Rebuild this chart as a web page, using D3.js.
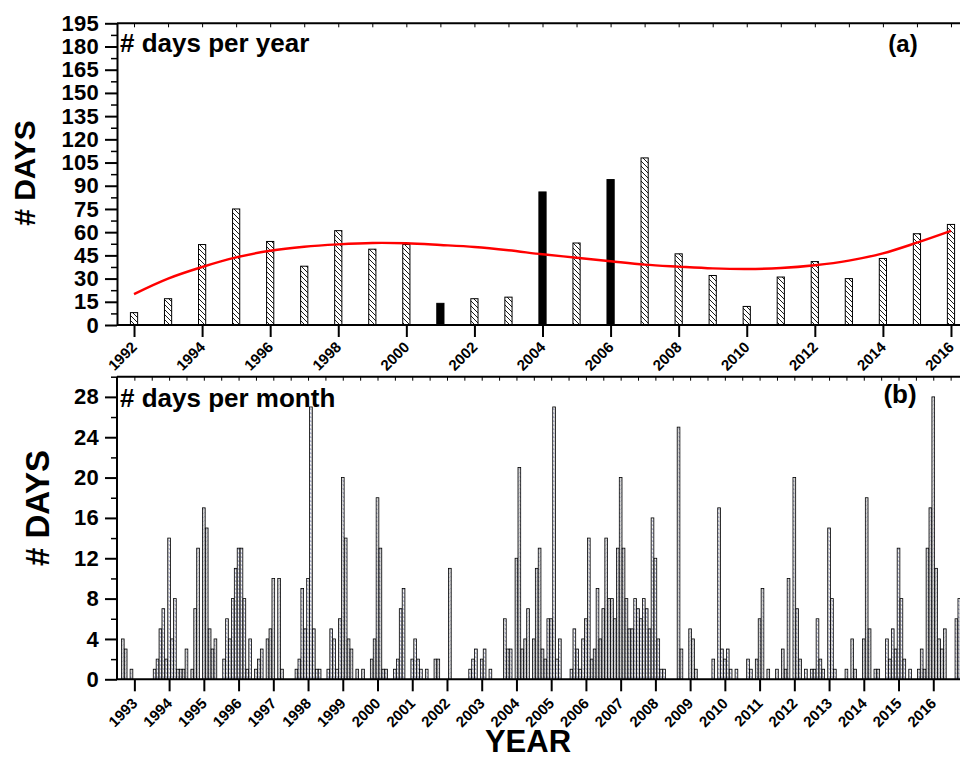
<!DOCTYPE html>
<html><head><meta charset="utf-8">
<script src="https://cdn.jsdelivr.net/npm/d3@7"></script>
<style>
body{margin:0;background:#fff}
svg{display:block}
text{font-family:"Liberation Sans",Arial,Helvetica,sans-serif;font-weight:bold;fill:#000}
</style>
</head><body>
<svg id="chart" width="960" height="758"></svg>
<script>
// ---------- DATA ----------
const years = [1992,1993,1994,1995,1996,1997,1998,1999,2000,2001,2002,2003,2004,
               2005,2006,2007,2008,2009,2010,2011,2012,2013,2014,2015,2016];
const yearlyDays = [8,17,52,75,54,38,61,49,52,14,17,18,86,53,94,108,46,32,12,31,41,30,43,59,65];
const solidYears = [2001,2004,2006];
const fitDays = [20,30,37.5,43.7,48,50.6,52.1,53,52.8,51.7,50.4,48.3,45.7,43.5,41.2,39,37.7,36.6,36.2,36.8,38.6,41.6,46.3,53.2,60.8];
const yearTicksA = [1992,1994,1996,1998,2000,2002,2004,2006,2008,2010,2012,2014,2016];
const dayTicksA = [0,15,30,45,60,75,90,105,120,135,150,165,180,195];

// monthly values, Jan..Dec, one row per year in `years`
const monthlyDays = [
  [0,0,0,0,0,0,0,0,4,3,0,1],      // 1992
  [0,0,0,0,0,0,0,1,2,5,7,2],      // 1993
  [14,4,8,1,1,1,3,0,1,7,13,0],    // 1994
  [17,15,5,3,4,0,0,2,6,4,8,11],   // 1995
  [13,13,8,1,4,0,1,2,3,0,4,5],    // 1996
  [10,0,10,1,0,0,0,0,1,2,9,5],    // 1997
  [10,27,5,1,1,0,0,1,5,4,1,6],    // 1998
  [20,14,4,3,0,1,0,1,0,0,2,4],    // 1999
  [18,13,1,1,0,0,1,2,7,9,0,0],    // 2000
  [2,4,2,1,0,1,0,0,2,2,0,0],      // 2001
  [0,11,0,0,0,0,0,0,1,2,3,0],     // 2002
  [2,3,0,1,0,0,0,0,6,3,3,0],      // 2003
  [12,21,3,4,7,0,4,11,13,3,2,6],  // 2004
  [6,27,2,4,0,0,0,1,5,3,1,4],     // 2005
  [6,14,2,3,9,4,7,14,8,8,6,13],   // 2006
  [20,13,8,5,5,8,7,6,8,7,5,16],   // 2007
  [12,4,1,1,0,0,0,0,25,3,0,0],    // 2008
  [5,4,1,0,0,0,0,0,2,0,17,3],     // 2009
  [2,3,1,0,1,0,0,0,2,1,0,2],      // 2010
  [6,9,0,1,0,0,1,0,3,1,10,0],     // 2011
  [20,7,2,0,1,0,1,1,6,2,1,0],     // 2012
  [15,8,1,0,0,0,1,0,4,1,0,0],     // 2013
  [4,18,5,0,1,1,0,0,4,2,5,3],     // 2014
  [13,8,2,0,1,0,0,1,3,1,13,17],   // 2015
  [28,11,4,3,5,0,0,0,6,8,0,0]     // 2016
];
const yearTicksB = [1993,1994,1995,1996,1997,1998,1999,2000,2001,2002,2003,2004,
                    2005,2006,2007,2008,2009,2010,2011,2012,2013,2014,2015,2016];
const dayTicksB = [0,4,8,12,16,20,24,28];

// ---------- SETUP ----------
const svg = d3.select("#chart");
const L = 117, R = 968;
const A = {top:23.3, bottom:325};
const B = {top:376.7, bottom:679.3};

const xa = d3.scaleLinear().domain([1991.5,2016.5]).range([L,R]);
const ya = d3.scaleLinear().domain([0,195]).range([A.bottom,A.top]);
const xb = d3.scaleLinear().domain([1992.5,2017]).range([L,R]);
const yb = d3.scaleLinear().domain([0,30]).range([B.bottom,B.top]);

const defs = svg.append("defs");
const pA = defs.append("pattern").attr("id","hatchA").attr("patternUnits","userSpaceOnUse")
  .attr("width",5).attr("height",5);
pA.append("rect").attr("width",5).attr("height",5).attr("fill","#fff");
pA.append("path").attr("d","M-1,-1 L6,6 M-1,4 L1,6 M4,-1 L6,1").attr("stroke","#000").attr("stroke-width",0.9);

const pB = defs.append("pattern").attr("id","hatchB").attr("patternUnits","userSpaceOnUse")
  .attr("width",3).attr("height",4);
pB.append("rect").attr("width",3).attr("height",4).attr("fill","#d2d2d2");
pB.append("rect").attr("x",1).attr("width",1).attr("height",4).attr("fill","#f4f4f4");
pB.append("path").attr("d","M1.1,0.5 L1.9,1.6").attr("stroke","#1a237e").attr("stroke-width",0.8);

// ---------- PANEL A ----------
const gA = svg.append("g");
gA.selectAll("rect.bar").data(years.map((y,i)=>({y, v:yearlyDays[i]})))
  .enter().append("rect").attr("class","bar")
  .attr("x",d=>xa(d.y)-3.6).attr("width",7.2)
  .attr("y",d=>ya(d.v)).attr("height",d=>ya(0)-ya(d.v))
  .attr("fill",d=>solidYears.includes(d.y)?"#000":"url(#hatchA)")
  .attr("stroke","#000").attr("stroke-width",1);

gA.append("path").datum(years.map((y,i)=>[y,fitDays[i]]))
  .attr("fill","none").attr("stroke","#ff0000").attr("stroke-width",2.4)
  .attr("d",d3.line().x(d=>xa(d[0])).y(d=>ya(d[1])).curve(d3.curveCatmullRom));

function styleAxis(g){
  g.select(".domain").attr("stroke","#000").attr("stroke-width",2);
  g.selectAll(".tick line").attr("stroke","#000").attr("stroke-width",2);
}
// left axis A
const axA = gA.append("g").attr("transform",`translate(${L},0)`)
  .call(d3.axisLeft(ya).tickValues(dayTicksA).tickSize(12).tickSizeOuter(0).tickPadding(6));
styleAxis(axA);
axA.selectAll("text").attr("font-size",22).style("letter-spacing","0.3px");
gA.append("g").attr("transform",`translate(${L},0)`)
  .call(d3.axisLeft(ya).tickValues(dayTicksA.slice(0,-1).map(v=>v+7.5)).tickSize(6).tickFormat(""))
  .call(g=>{g.select(".domain").remove(); g.selectAll("line").attr("stroke","#000").attr("stroke-width",1.5);});
// bottom axis A
const bxA = gA.append("g").attr("transform",`translate(0,${A.bottom})`)
  .call(d3.axisBottom(xa).tickValues(yearTicksA).tickSize(12).tickSizeOuter(0).tickFormat(""));
styleAxis(bxA);
bxA.select(".domain").attr("d",`M${L},0H${R}`);
gA.selectAll("text.xla").data(yearTicksA).enter().append("text").attr("class","xla")
  .attr("font-size",15).attr("text-anchor","end")
  .attr("transform",d=>`translate(${xa(d)+4},${A.bottom+23}) rotate(-45)`)
  .text(d=>d);
// top frame A
const txA = gA.append("g").attr("transform",`translate(0,${A.top})`)
  .call(d3.axisTop(xa).tickValues(years).tickSize(-4).tickSizeOuter(0).tickFormat(""));
styleAxis(txA);
txA.select(".domain").attr("d",`M${L},0H${R}`);
txA.selectAll(".tick line").attr("stroke-width",1);

gA.append("text").attr("x",120).attr("y",52).attr("font-size",26).text("# days per year");
gA.append("text").attr("x",903).attr("y",52).attr("font-size",24).attr("text-anchor","middle").text("(a)");
gA.append("text").attr("font-size",30).attr("text-anchor","middle")
  .attr("transform","translate(35,173) rotate(-90)").text("# DAYS");

// ---------- PANEL B ----------
const gB = svg.append("g");
const monthBars = [];
years.forEach((y,i)=>monthlyDays[i].forEach((v,m)=>{ if(v>0) monthBars.push({t:y+m/12, v}); }));
gB.selectAll("rect.mbar").data(monthBars).enter().append("rect").attr("class","mbar")
  .attr("x",d=>xb(d.t)-1.35).attr("width",2.7)
  .attr("y",d=>yb(d.v)).attr("height",d=>yb(0)-yb(d.v))
  .attr("fill","url(#hatchB)").attr("stroke","#000").attr("stroke-width",0.8);

const axB = gB.append("g").attr("transform",`translate(${L},0)`)
  .call(d3.axisLeft(yb).tickValues(dayTicksB).tickSize(12).tickSizeOuter(0).tickPadding(6));
styleAxis(axB);
axB.select(".domain").attr("d",`M0,${B.bottom}V${B.top}`);
axB.selectAll("text").attr("font-size",22).style("letter-spacing","0.3px");
gB.append("g").attr("transform",`translate(${L},0)`)
  .call(d3.axisLeft(yb).tickValues(dayTicksB.map(v=>v+2)).tickSize(6).tickFormat(""))
  .call(g=>{g.select(".domain").remove(); g.selectAll("line").attr("stroke","#000").attr("stroke-width",1.5);});

const bxB = gB.append("g").attr("transform",`translate(0,${B.bottom})`)
  .call(d3.axisBottom(xb).tickValues(yearTicksB).tickSize(12).tickSizeOuter(0).tickFormat(""));
styleAxis(bxB);
bxB.select(".domain").attr("d",`M${L},0H${R}`);
gB.selectAll("text.xlb").data(yearTicksB).enter().append("text").attr("class","xlb")
  .attr("font-size",15).attr("text-anchor","end")
  .attr("transform",d=>`translate(${xb(d)+4},${B.bottom+25}) rotate(-45)`)
  .text(d=>d);

const txB = gB.append("g").attr("transform",`translate(0,${B.top})`)
  .call(d3.axisTop(xb).tickValues(d3.range(1993,2017.01,0.5)).tickSize(-4).tickSizeOuter(0).tickFormat(""));
styleAxis(txB);
txB.select(".domain").attr("d",`M${L},0H${R}`);
txB.selectAll(".tick line").attr("stroke-width",1);

gB.append("text").attr("x",120).attr("y",407).attr("font-size",26).text("# days per month");
gB.append("text").attr("x",900).attr("y",403).attr("font-size",26).attr("text-anchor","middle").text("(b)");
gB.append("text").attr("font-size",33).attr("text-anchor","middle")
  .attr("transform","translate(49,508) rotate(-90)").text("# DAYS");
gB.append("text").attr("x",528).attr("y",752).attr("font-size",31).attr("text-anchor","middle").text("YEAR");
</script>
</body></html>
